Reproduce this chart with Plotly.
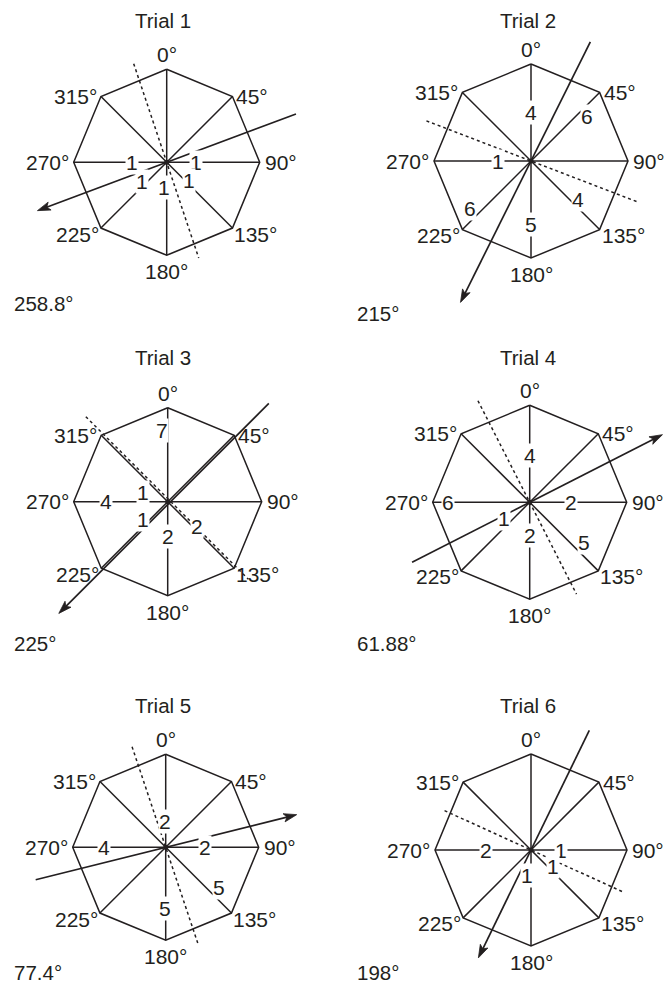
import math
import plotly.graph_objects as go

# ---------------- data ----------------
trial_names = ["Trial 1", "Trial 2", "Trial 3", "Trial 4", "Trial 5", "Trial 6"]
result_labels = ["258.8°", "215°", "225°", "61.88°", "77.4°", "198°"]
directions = [0, 45, 90, 135, 180, 225, 270, 315]
direction_labels = ["0°", "45°", "90°", "135°", "180°", "225°", "270°", "315°"]

counts_trial1 = [0, 0, 1, 1, 1, 1, 1, 0]
counts_trial2 = [4, 6, 0, 4, 5, 6, 1, 0]
counts_trial3 = [7, 0, 0, 2, 2, 1, 4, 1]
counts_trial4 = [4, 0, 2, 5, 2, 1, 6, 0]
counts_trial5 = [2, 0, 2, 5, 5, 0, 4, 0]
counts_trial6 = [0, 0, 1, 1, 1, 0, 2, 0]
all_counts = [counts_trial1, counts_trial2, counts_trial3,
              counts_trial4, counts_trial5, counts_trial6]

# bearing of the arrow as drawn in the picture (tip direction)
arrow_bearing = [249.5, 206.5, 225, 63, 76, 206]
# bearing of the dotted (perpendicular) line as drawn
dotted_bearing = [341.5, 291, 315, 333, 341.5, 294.5]

# ---------------- layout (pixel space) ----------------
W, H = 664, 984
panels = [
    dict(cx=166.7, cy=162.3, r=93, title=(163, 20), res=(12, 303), tip=138, tail=138, d1=104, d2=101, aoff=0, doff=0),
    dict(cx=531.0, cy=161.0, r=97, title=(528, 20), res=(355, 313), tip=158, tail=133, d1=112, d2=116, aoff=0, doff=0),
    dict(cx=167.7, cy=501.7, r=94, title=(163, 357), res=(12, 643), tip=156, tail=141, d1=118, d2=112, aoff=2, doff=2.2),
    dict(cx=529.7, cy=502.3, r=97, title=(528, 357), res=(355, 643), tip=149, tail=132, d1=114, d2=103, aoff=0, doff=0),
    dict(cx=165.7, cy=847.3, r=93, title=(163, 705), res=(12, 972), tip=135, tail=134, d1=106, d2=101, aoff=0, doff=0),
    dict(cx=531.0, cy=850.0, r=96, title=(528, 705), res=(355, 972), tip=120, tail=133, d1=95, d2=100, aoff=0, doff=0),
]
# pixel nudges for individual count labels (panel index, direction) -> (dx, dy)
label_nudge = {
    (0, 135): (2, -3), (0, 180): (-3, 1), (0, 225): (-4, -1.5), (0, 270): (-5, 0),
    (1, 0): (0, 2), (1, 45): (-2, 13), (1, 135): (4, -5), (1, 180): (0, 5), (1, 225): (-3, -10), (1, 270): (-2, 0),
    (2, 0): (-6, 1.5), (2, 135): (1, -3), (2, 180): (0, 2), (2, 225): (-4, -3), (2, 270): (-2, 0), (2, 315): (-4, 12),
    (3, 0): (0, 3), (3, 135): (4, -10), (3, 225): (-4.5, -5),
    (4, 0): (-1, 6.5), (4, 135): (5, -8.5), (4, 180): (-1, 5), (4, 270): (-2.5, 0),
    (5, 135): (1, -5), (5, 180): (-4.5, 0.5), (5, 270): (-4.5, 0),
}

INK = "#231f20"
FONT = "Liberation Sans, Arial, sans-serif"
FS = 20.5
FS_DIR = 21


def pt(p, bearing, dist, off=0.0):
    b = math.radians(bearing)
    x = p["cx"] + dist * math.sin(b) - off * math.cos(b)
    y = p["cy"] - dist * math.cos(b) - off * math.sin(b)
    return x, y


fig = go.Figure()
annotations = []

for i, p in enumerate(panels):
    ox, oy = [], []
    for d in directions + [directions[0]]:
        x, y = pt(p, d, p["r"])
        ox.append(x)
        oy.append(y)
    fig.add_trace(go.Scatter(x=ox, y=oy, mode="lines",
                             line=dict(color=INK, width=1.5),
                             hoverinfo="skip", showlegend=False))
    sx, sy = [], []
    for d in directions:
        x, y = pt(p, d, p["r"])
        sx += [p["cx"], x, None]
        sy += [p["cy"], y, None]
    fig.add_trace(go.Scatter(x=sx, y=sy, mode="lines",
                             line=dict(color=INK, width=1.5),
                             hoverinfo="skip", showlegend=False))
    db = dotted_bearing[i]
    x1, y1 = pt(p, db, p["d1"], -p["doff"])
    x2, y2 = pt(p, db + 180, p["d2"], p["doff"])
    fig.add_trace(go.Scatter(x=[x1, x2], y=[y1, y2], mode="lines",
                             line=dict(color=INK, width=1.5, dash="dot"),
                             hoverinfo="skip", showlegend=False))
    for d, c in zip(directions, all_counts[i]):
        if c <= 0:
            continue
        scale = p["r"] / 95.0
        if d in (0, 180):
            dist = (17 + 8 * c) * scale
        else:
            dist = (20 + 10 * c) * scale
        x, y = pt(p, d, dist)
        nx, ny = label_nudge.get((i, d), (0, 0))
        annotations.append(dict(x=x + nx, y=y + ny, xref="x", yref="y", text=str(c),
                                showarrow=False, bgcolor="white", borderpad=0,
                                font=dict(family=FONT, size=21, color=INK),
                                xanchor="center", yanchor="middle"))
    # arrow line (shaft) + filled arrowhead
    ab = arrow_bearing[i]
    head_len, head_half, notch = 13.0, 4.2, 3.0
    tx, ty = pt(p, ab, p["tip"], p["aoff"])
    bx, by = pt(p, ab + 180, p["tail"], -p["aoff"])
    sx2, sy2 = pt(p, ab, p["tip"] - head_len + notch + 1, p["aoff"])
    fig.add_trace(go.Scatter(x=[bx, sx2], y=[by, sy2], mode="lines",
                             line=dict(color=INK, width=1.7),
                             cliponaxis=False,
                             hoverinfo="skip", showlegend=False))
    lx, ly = pt(p, ab, p["tip"] - head_len, p["aoff"] + head_half)
    rx, ry = pt(p, ab, p["tip"] - head_len, p["aoff"] - head_half)
    nx_, ny_ = pt(p, ab, p["tip"] - head_len + notch, p["aoff"])
    fig.add_trace(go.Scatter(x=[tx, lx, nx_, rx, tx], y=[ty, ly, ny_, ry, ty],
                             mode="lines", fill="toself", fillcolor=INK,
                             line=dict(color=INK, width=0.8),
                             cliponaxis=False,
                             hoverinfo="skip", showlegend=False))
    fig.add_trace(go.Scatter(x=[p["cx"]], y=[p["cy"]], mode="markers",
                             marker=dict(size=5, color=INK),
                             hoverinfo="skip", showlegend=False))
    for d, lab in zip(directions, direction_labels):
        vx, vy = pt(p, d, p["r"])
        if d == 0:
            a = dict(x=vx, y=vy - 1, xanchor="center", yanchor="bottom")
        elif d == 45:
            a = dict(x=vx + 2, y=vy, xanchor="left", yanchor="middle")
        elif d == 90:
            a = dict(x=vx + 3, y=vy, xanchor="left", yanchor="middle")
        elif d == 135:
            a = dict(x=vx, y=vy + 6, xanchor="left", yanchor="middle")
        elif d == 180:
            a = dict(x=vx, y=vy + 3, xanchor="center", yanchor="top")
        elif d == 225:
            a = dict(x=vx, y=vy + 6, xanchor="right", yanchor="middle")
        elif d == 270:
            a = dict(x=vx - 3, y=vy, xanchor="right", yanchor="middle")
        else:
            a = dict(x=vx - 2, y=vy, xanchor="right", yanchor="middle")
        a.update(xref="x", yref="y", text=lab, showarrow=False,
                 font=dict(family=FONT, size=FS_DIR, color=INK))
        annotations.append(a)
    annotations.append(dict(x=p["title"][0], y=p["title"][1], xref="x", yref="y",
                            text=trial_names[i], showarrow=False,
                            xanchor="center", yanchor="middle",
                            font=dict(family=FONT, size=FS, color=INK)))
    annotations.append(dict(x=p["res"][0], y=p["res"][1], xref="x", yref="y",
                            text=result_labels[i], showarrow=False,
                            xanchor="left", yanchor="middle",
                            font=dict(family=FONT, size=FS, color=INK)))

fig.update_layout(
    width=W, height=H,
    margin=dict(l=0, r=0, t=0, b=0),
    paper_bgcolor="white", plot_bgcolor="white",
    xaxis=dict(range=[0, W], visible=False, fixedrange=True),
    yaxis=dict(range=[H, 0], visible=False, fixedrange=True),
    annotations=annotations,
    showlegend=False,
)

fig.write_html(
    "out.html",
    config={"displayModeBar": False},
    post_script="document.body.style.margin='0';document.body.style.overflow='hidden';",
)
